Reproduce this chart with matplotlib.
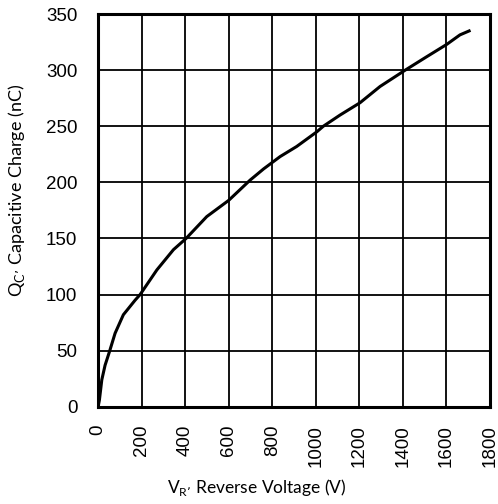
import matplotlib
matplotlib.use('Agg')
import matplotlib.pyplot as plt

# curva
voltaje = [0, 6, 17, 32, 52, 78, 116, 170, 193, 270, 346, 404, 499, 600, 698, 760, 836,
           912, 1004, 1034, 1111, 1203, 1295, 1410, 1509, 1601, 1662, 1704]
carga = [0, 6, 24, 37, 49, 65.5, 82, 95, 100, 122, 140, 150, 169.5, 184, 202, 212, 223,
         232, 245, 250, 260, 271, 285.5, 300, 312, 323, 331.5, 335]

x_ticks = [0, 200, 400, 600, 800, 1000, 1200, 1400, 1600, 1800]
y_ticks = [0, 50, 100, 150, 200, 250, 300, 350]

plt.rcParams['font.family'] = ['Liberation Sans', 'DejaVu Sans']

fig = plt.figure(figsize=(4.98, 5.04), dpi=100)
ax = fig.add_axes([0.197, 0.193, 0.787, 0.779])

ax.plot(voltaje, carga, color='black', linewidth=2.2, solid_joinstyle='round')

ax.set_xlim(0, 1800)
ax.set_ylim(0, 350)
ax.set_xticks(x_ticks)
ax.set_yticks(y_ticks)
ax.set_xticklabels([str(t) for t in x_ticks], rotation=90, fontsize=13.5)
ax.set_yticklabels([str(t) for t in y_ticks], fontsize=13.5)
ax.tick_params(axis='y', length=0, pad=15)
ax.tick_params(axis='x', length=0, pad=13)

ax.grid(True, color='black', linewidth=1.3)
for s in ax.spines.values():
    s.set_linewidth(2.2)

ax.set_xlabel("V$_\\mathregular{R\u2019}$ Reverse Voltage (V)", fontsize=12.5, family='Lato', va='center')
ax.xaxis.set_label_coords(0.404, -0.205)
ax.set_ylabel("Q$_\\mathregular{C\u2019}$ Capacitive Charge (nC)", fontsize=13, family='Lato', va='center')
ax.yaxis.set_label_coords(-0.209, 0.55)

fig.savefig('out.png', dpi=100)
